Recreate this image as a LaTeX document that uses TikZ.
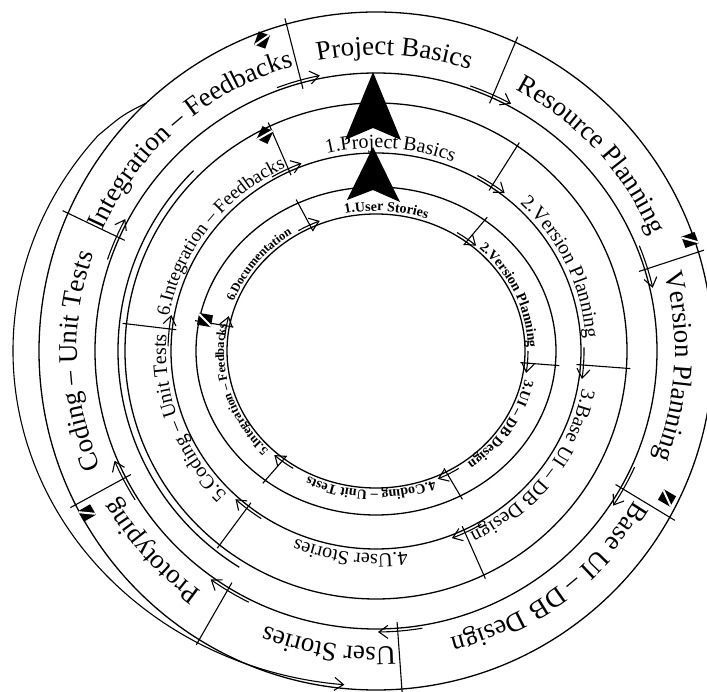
\documentclass[tikz,border=0pt]{standalone}
\usepackage{fontspec}
\setmainfont{Liberation Serif}
\usetikzlibrary{decorations.text,arrows.meta,calc}
\newcommand\ringtxt[5]{% center angle, half span, rx, ry, text
  \path[decorate,decoration={text along path,text align=center,text={#5}}]
    ($(O)+({#1+#2}:#3pt and #4pt)$) arc[start angle={#1+#2},end angle={#1-#2},x radius=#3pt,y radius=#4pt];}
\newcommand\ringtick[5]{% angle, rx in, ry in, rx out, ry out
  \draw[tick] ($(O)+(#1:#2pt and #3pt)$) -- ($(O)+(#1:#4pt and #5pt)$);}
\newcommand\ringarr[3]{% angle, rx, ry
  \draw[arr] ($(O)+({#1+5}:#2pt and #3pt)$) arc[start angle={#1+5},end angle={#1-4},x radius=#2pt,y radius=#3pt];}
\newcommand\ringicon[2]{% position, rotation
  \begin{scope}[shift={#1},rotate=#2]
    \fill[black] (-6,-7) rectangle (6,7);
    \draw[white,line width=2pt] (-5,-7) -- (5,7);
  \end{scope}}
\begin{document}
\begin{tikzpicture}[x=1pt,y=1pt,
  ring/.style={line width=1.3pt},
  tick/.style={line width=1.1pt},
  arr/.style={line width=1.1pt,-{Straight Barb[length=9pt,width=13pt,line width=1.1pt]}},
  big/.style={fill=black}]
\useasboundingbox (0,0) rectangle (707,691);
\fill[white] (0,0) rectangle (707,691);
\coordinate (O) at (376,340);
% rings
\draw[ring] (O) ellipse[x radius=337pt,y radius=339pt];
\draw[ring] (O) ellipse[x radius=281pt,y radius=278pt];
\draw[ring] (O) ellipse[x radius=251pt,y radius=248pt];
\draw[ring] (O) ellipse[x radius=205pt,y radius=198pt];
\draw[ring] (O) ellipse[x radius=180pt,y radius=164pt];
\draw[ring] (O) ellipse[x radius=149pt,y radius=137pt];
% extra loop curves
\draw[arr] ($(O)+(133:337pt and 339pt)$) .. controls ($(O)+(136:352pt and 340pt)$) .. ($(O)+(140:363pt and 335pt)$) arc[start angle=140,end angle=265,x radius=363pt,y radius=335pt];
\draw[ring] ($(O)+(135:258pt and 255pt)$) arc[start angle=135,end angle=238,x radius=258pt,y radius=255pt];
% outer ring texts
\def\fntO{|\fontsize{27pt}{29pt}\selectfont|}
\ringtxt{86.5}{30}{299}{296}{\fntO Project Basics}
\ringtxt{42.5}{30}{299}{296}{\fntO Resource Planning}
\ringtxt{-3}{30}{299}{296}{\fntO Version Planning}
\ringtxt{-53}{30}{299}{296}{\fntO Base UI – DB Design}
\ringtxt{-99}{25}{299}{296}{\fntO User Stories}
\ringtxt{-138}{25}{299}{296}{\fntO Prototyping}
\ringtxt{182}{30}{299}{296}{\fntO Coding – Unit Tests}
\ringtxt{131}{30}{299}{296}{\fntO Integration – Feedbacks}
% middle ring texts
\def\fntM{|\fontsize{20pt}{22pt}\selectfont|}
\ringtxt{86}{35}{210}{203}{\fntM 1.Project Basics}
\ringtxt{25}{35}{210}{203}{\fntM 2.Version Planning}
\ringtxt{-37}{35}{210}{203}{\fntM 3.Base UI – DB Design}
\ringtxt{-97}{35}{210}{203}{\fntM 4.User Stories}
\ringtxt{200}{35}{210}{203}{\fntM 5.Coding – Unit Tests}
\ringtxt{143}{35}{210}{203}{|\fontsize{19pt}{21pt}\selectfont|6.Integration – Feedbacks}
% inner ring texts
\def\fntI{|\bfseries\fontsize{14pt}{15pt}\selectfont|}
\def\fntJ{|\bfseries\fontsize{12.5pt}{13pt}\selectfont|}
\ringtxt{86}{35}{152}{140}{\fntI 1.User Stories}
\ringtxt{24}{35}{152}{140}{\fntI 2.Version Planning}
\ringtxt{-32}{35}{152}{140}{\fntI 3.UI – DB Design}
\ringtxt{-92}{35}{152}{140}{\fntI 4.Coding – Unit Tests}
\ringtxt{197}{35}{152}{140}{\fntJ 5.Integration – Feedbacks}
\ringtxt{142}{35}{152}{140}{\fntJ 6.Documentation}
% ticks and arrows: outer ring
\foreach \a in {105.4,65.6,17,-29.4,-85.6,-121.6,-153,156}{
  \ringtick{\a}{275}{272}{343}{345}
  \ringarr{\a}{284}{281}}
% middle ring
\foreach \a in {115,55.8,-4,-64.6,-128.5,173.7}{
  \ringtick{\a}{201}{194}{255}{252}
  \ringarr{\a}{208}{201}}
% inner ring
\foreach \a in {115.7,52.8,-5,-62,-128,169.6}{
  \ringtick{\a}{145}{133}{184}{168}
  \ringarr{\a}{152}{140}}
% icons
\ringicon{(262,651)}{-20}
\ringicon{(690,451)}{-70}
\ringicon{(667,193)}{-120}
\ringicon{(87,178)}{120}
\ringicon{(265,556)}{-25}
\ringicon{(205,371)}{80}
% big arrowheads
\fill[big] (373,619) -- (401,551) -- (373,563) -- (345,551) -- cycle;
\fill[big] (373,544) -- (400,489) -- (373,501) -- (347,491) -- cycle;
\end{tikzpicture}
\end{document}
